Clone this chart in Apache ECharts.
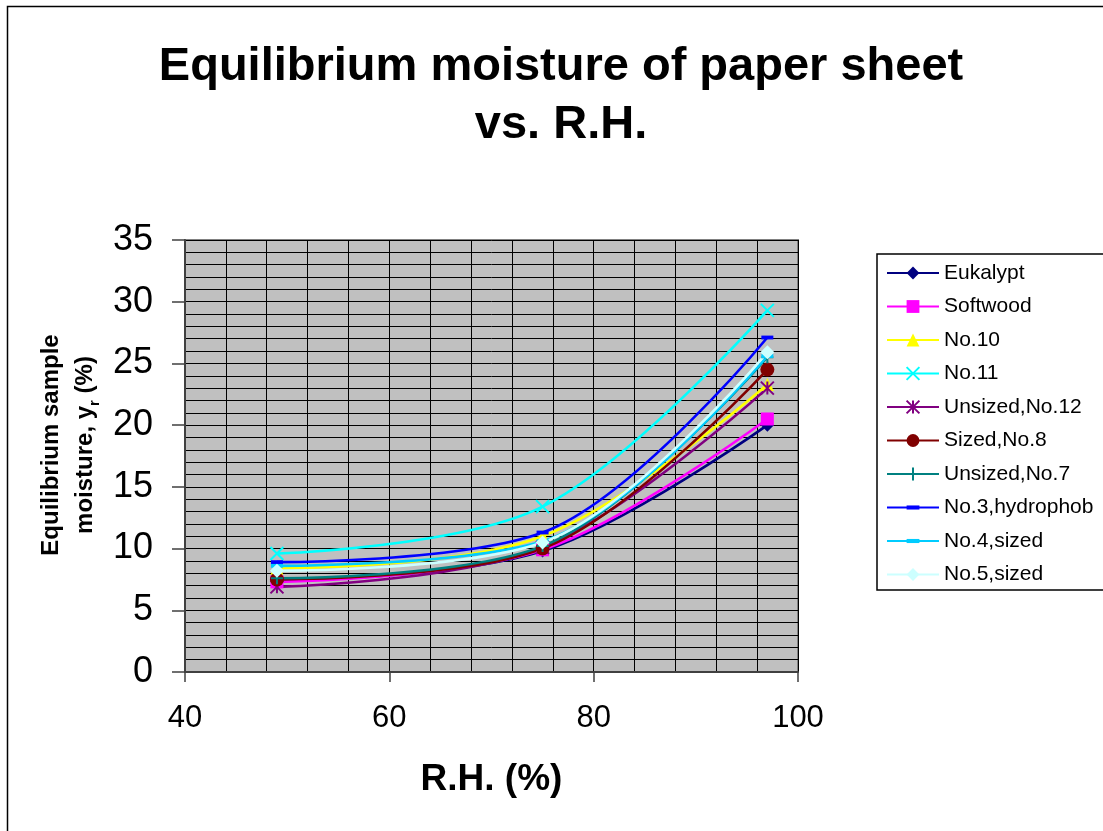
<!DOCTYPE html>
<html>
<head>
<meta charset="utf-8">
<title>Equilibrium moisture of paper sheet vs. R.H.</title>
<script src="https://cdn.jsdelivr.net/npm/echarts@6/dist/echarts.min.js"></script>
<style>
  html, body { margin: 0; padding: 0; background: #fff; }
  #chart { width: 1103px; height: 831px; }
</style>
</head>
<body>
<div id="chart"></div>
<script>
// relative humidity (%) where the samples were measured
const rh = [49, 75, 97];

// equilibrium moisture y_r (%) per sample
const eukalypt = [7.4, 9.8, 20.0];
const softwood = [7.3, 9.9, 20.5];
const no10 = [8.4, 11.0, 23.3];
const no11 = [9.6, 13.4, 29.3];
const unsizedNo12 = [6.9, 10.1, 23.0];
const sizedNo8 = [7.5, 10.0, 24.5];
const unsizedNo7 = [7.6, 10.2, 25.5];
const no3Hydrophob = [8.9, 11.3, 27.1];
const no4Sized = [8.6, 10.6, 25.6];
const no5Sized = [8.2, 10.5, 25.9];

const xTicks = [40, 60, 80, 100];
const yTicks = [0, 5, 10, 15, 20, 25, 30, 35];

const FONT = '"Liberation Sans", Arial, Helvetica, sans-serif';

// excel style markers
const sym = {
    cross: 'path://M0,0 L10,10 M10,0 L0,10',
    star: 'path://M0,0 L10,10 M10,0 L0,10 M5,0 L5,10',
    plus: 'path://M5,0 L5,10 M0,5 L10,5',
    dash: 'path://M0,0 L0,0 M10,10 L10,10 M0,3.4 L10,3.4 L10,6.6 L0,6.6 Z'
};

let mk = (name, values, color, symbol, size, stroke) => ({
    name: name,
    type: 'line',
    smooth: 0.35,
    data: values.map((v, i) => [rh[i], v]),
    symbol: symbol,
    symbolSize: size,
    lineStyle: { color: color, width: 2.6 },
    itemStyle: { color: color, borderColor: color, borderWidth: stroke ? 2 : 0 },
    emphasis: { disabled: true }
});

let series = [
    mk('Eukalypt', eukalypt, '#000080', 'diamond', 13, false),
    mk('Softwood', softwood, '#FF00FF', 'rect', 13, false),
    mk('No.10', no10, '#FFFF00', 'triangle', 13, false),
    mk('No.11', no11, '#00FFFF', sym.cross, 13, true),
    mk('Unsized,No.12', unsizedNo12, '#800080', sym.star, 13, true),
    mk('Sized,No.8', sizedNo8, '#800000', 'circle', 14, false),
    mk('Unsized,No.7', unsizedNo7, '#008080', sym.plus, 12, true),
    mk('No.3,hydrophob', no3Hydrophob, '#0000FF', sym.dash, 12, false),
    mk('No.4,sized', no4Sized, '#00CCFF', sym.dash, 12, false),
    mk('No.5,sized', no5Sized, '#CCFFFF', 'diamond', 14, false)
];

let option = {
    animation: false,
    backgroundColor: '#fff',
    title: {
        text: 'Equilibrium moisture of paper sheet\nvs. R.H.',
        left: 556,
        top: 33,
        textAlign: 'center',
        textStyle: {
            fontFamily: FONT,
            fontSize: 47,
            fontWeight: 'bold',
            color: '#000',
            lineHeight: 58
        }
    },
    legend: {
        orient: 'vertical',
        left: 877,
        top: 254,
        padding: [8.5, 14, 5, 9],
        itemGap: 12.5,
        itemWidth: 52,
        itemHeight: 16,
        borderColor: '#000',
        borderWidth: 1.5,
        borderRadius: 0,
        textStyle: { fontFamily: FONT, fontSize: 21, lineHeight: 21, color: '#000' },
        data: series.map(s => s.name)
    },
    grid: {
        left: 185,
        right: 305,
        top: 240,
        bottom: 159,
        show: true,
        backgroundColor: '#C0C0C0',
        borderColor: '#808080',
        borderWidth: 2
    },
    xAxis: {
        type: 'value',
        min: xTicks[0],
        max: xTicks[xTicks.length - 1],
        interval: 20,
        name: 'R.H. (%)',
        nameLocation: 'middle',
        nameGap: 89,
        nameTextStyle: { fontFamily: FONT, fontSize: 37, fontWeight: 'bold', color: '#000' },
        axisLine: { show: true, lineStyle: { color: '#404040', width: 2 } },
        axisTick: { show: true, inside: false, length: 10, lineStyle: { color: '#404040', width: 1.5 } },
        axisLabel: { fontFamily: FONT, fontSize: 31, color: '#000', margin: 31 },
        splitLine: { show: true, lineStyle: { color: '#000', width: 1 } },
        minorTick: { show: false, splitNumber: 5 },
        minorSplitLine: { show: true, lineStyle: { color: '#000', width: 1 } }
    },
    yAxis: {
        type: 'value',
        min: yTicks[0],
        max: yTicks[yTicks.length - 1],
        interval: 5,
        axisLine: { show: true, lineStyle: { color: '#404040', width: 2 } },
        axisTick: { show: true, inside: false, length: 13, lineStyle: { color: '#404040', width: 1.5 } },
        axisLabel: { fontFamily: FONT, fontSize: 36, color: '#000', margin: 32 },
        splitLine: { show: true, lineStyle: { color: '#000', width: 1 } },
        minorTick: { show: false, splitNumber: 5 },
        minorSplitLine: { show: true, lineStyle: { color: '#000', width: 1 } }
    },
    graphic: [
        {
            // outer chart frame
            type: 'rect',
            silent: true,
            shape: { x: 7.5, y: 6.5, width: 1300, height: 1000 },
            style: { fill: 'none', stroke: '#000', lineWidth: 1.5 }
        },
        {
            type: 'text',
            x: 68,
            y: 445,
            rotation: Math.PI / 2,
            silent: true,
            style: {
                text: '{a|Equilibrium sample}\n{a|moisture, y}{s|r}{a| (%)}',
                align: 'center',
                verticalAlign: 'middle',
                fill: '#000',
                rich: {
                    a: { fontFamily: FONT, fontSize: 24, fontWeight: 'bold', lineHeight: 34, fill: '#000' },
                    s: { fontFamily: FONT, fontSize: 15, fontWeight: 'bold', lineHeight: 20, verticalAlign: 'bottom', fill: '#000' }
                }
            }
        }
    ],
    series: series
};

let mychart = echarts.init(document.getElementById('chart'));
mychart.setOption(option);
</script>
</body>
</html>
